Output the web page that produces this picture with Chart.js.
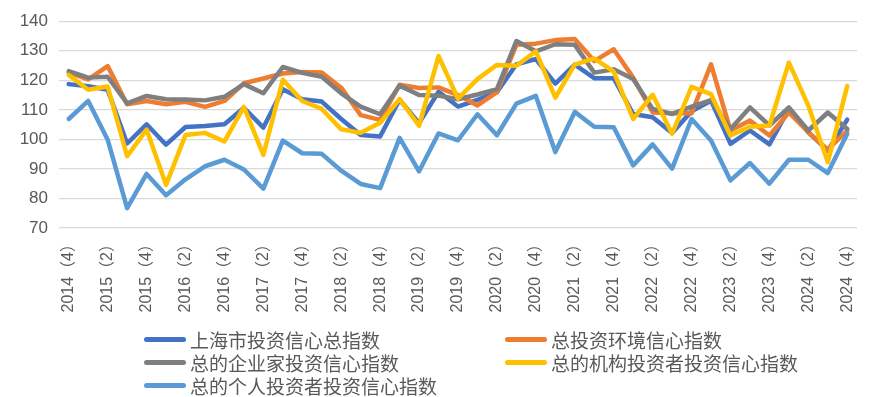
<!DOCTYPE html>
<html>
<head>
<meta charset="utf-8">
<script src="https://cdn.jsdelivr.net/npm/chart.js@4.4.0/dist/chart.umd.min.js"></script>
<style>
  html, body { margin: 0; padding: 0; background: #fff; }
  #wrap { position: relative; width: 879px; height: 397px; }
  #c { position: absolute; left: 0; top: 0; }
  #legend { position: absolute; left: 0; top: 0; width: 879px; height: 397px; pointer-events: none;
            font-family: "Noto Sans CJK SC", sans-serif; font-size: 19px; color: #595959; }
  .item { position: absolute; height: 23px; line-height: 23px; white-space: nowrap; }
  .mark { position: absolute; top: 9px; width: 42px; height: 5px; border-radius: 3px; }
  .txt { position: absolute; left: 46px; top: 0; }
</style>
</head>
<body>
<div id="wrap">
  <canvas id="c" width="879" height="397"></canvas>
  <div id="legend"></div>
</div>
<script>
// ---- data ----
const categories = [
  "2014（4）","2015（1）","2015（2）","2015（3）","2015（4）",
  "2016（1）","2016（2）","2016（3）","2016（4）",
  "2017（1）","2017（2）","2017（3）","2017（4）",
  "2018（1）","2018（2）","2018（3）","2018（4）",
  "2019（1）","2019（2）","2019（3）","2019（4）",
  "2020（1）","2020（2）","2020（3）","2020（4）",
  "2021（1）","2021（2）","2021（3）","2021（4）",
  "2022（1）","2022（2）","2022（3）","2022（4）",
  "2023（1）","2023（2）","2023（3）","2023（4）",
  "2024（1）","2024（2）","2024（3）","2024（4）"
];
const seriesNames = [
  "上海市投资信心总指数",
  "总投资环境信心指数",
  "总的企业家投资信心指数",
  "总的机构投资者投资信心指数",
  "总的个人投资者投资信心指数"
];
const totalIndex = [118.7,118,116.8,98.6,105.1,98.2,104.2,104.5,105.1,110.7,104,117,113.6,112.8,106.9,101.5,101,113.4,105.5,116.1,111.1,113.4,116,125.4,127.2,118.9,125.3,120.7,120.7,108.6,107.5,102.2,109.5,113.1,98.5,103,98.3,110.3,102.4,96.2,106.7];
const environmentIndex = [122.6,120.3,124.8,111.9,113,111.9,112.7,111,113,119,120.6,122.3,122.8,122.6,117.5,108.2,106.6,118.5,117.4,117.6,115,111.5,116,132,132.4,133.6,134,126.5,130.5,120.9,109.1,108.8,108.8,125.4,103,106.4,101.3,109.1,102.4,96.5,103];
const entrepreneurIndex = [123.1,120.9,121.2,112.2,114.7,113.6,113.5,113.2,114.4,118.7,115.6,124.5,122.5,121.2,115.6,111.1,108.5,118.2,115,114.8,113.6,115.2,117,133.3,129.8,132.2,132,122.6,123.7,120.4,110.3,108.6,111.1,113.3,103.5,110.8,104.7,110.8,103,109.1,103.5];
const institutionIndex = [121.8,116.8,117.9,94.3,103.3,84.6,101.5,102.2,99.3,111,94.7,120.2,113,110.3,103.4,102.2,105.6,113.6,104.6,128.2,113.8,120.4,125.2,124.9,129.8,114.1,125.3,127.4,122.9,106.9,115.1,101.9,117.8,115.3,101.3,104.3,104.7,126,111.4,92.3,118.1];
const individualIndex = [106.9,113,99.9,76.7,88.3,81.1,86.5,90.9,93.1,89.8,83.3,99.6,95.3,95.1,89.4,84.9,83.5,100.5,89.2,102,99.7,108.5,101.4,112.1,114.7,95.7,109.3,104.3,104.1,91.2,98.3,90.1,106.9,99.6,86.1,92,85,93.1,93.1,88.6,101.9];
const yTicks = [70, 80, 90, 100, 110, 120, 130, 140];

const colors = ["#4472C4", "#ED7D31", "#7F7F7F", "#FFC000", "#5B9BD5"];
const values = [totalIndex, environmentIndex, entrepreneurIndex, institutionIndex, individualIndex];

const datasets = values.map((v, i) => ({
  label: seriesNames[i],
  data: v,
  borderColor: colors[i],
  backgroundColor: colors[i],
  borderWidth: 4.5,
  pointRadius: 0,
  tension: 0,
  fill: false,
  borderJoinStyle: 'round',
  borderCapStyle: 'round',
  order: values.length - i
}));

const chart = new Chart(document.getElementById('c'), {
  type: 'line',
  data: { labels: categories, datasets: datasets },
  options: {
    responsive: false,
    animation: false,
    devicePixelRatio: 1,
    layout: { padding: { left: 0, right: 22, top: 20, bottom: 0 } },
    plugins: { legend: { display: false }, tooltip: { enabled: false } },
    scales: {
      x: {
        offset: true,
        grid: { display: false, drawTicks: false },
        border: { display: false },
        ticks: {
          autoSkip: false,
          maxRotation: 90,
          minRotation: 90,
          padding: 8,
          color: '#595959',
          font: { family: '"Liberation Sans", "Noto Sans CJK SC", sans-serif', size: 16 },
          callback: function (v, i) { return i % 2 === 0 ? this.getLabelForValue(v) : ''; }
        },
        afterFit: function (s) { s.height = 397 - 228; }
      },
      y: {
        min: 70,
        max: 140,
        afterBuildTicks: function (s) { s.ticks = yTicks.map(v => ({ value: v })); },
        grid: { color: '#D9D9D9', lineWidth: 1.3, drawTicks: false },
        border: { display: false },
        ticks: {
          padding: 11,
          color: '#595959',
          font: { family: '"Liberation Sans", sans-serif', size: 17 }
        },
        afterFit: function (s) { s.width = 59; }
      }
    }
  }
});

// HTML legend built from chart datasets
const legendPos = [[144, 328], [505, 328], [144, 351], [505, 351], [144, 374]];
const lg = document.getElementById('legend');
chart.data.datasets.forEach((ds, i) => {
  const it = document.createElement('div');
  it.className = 'item';
  it.style.left = legendPos[i][0] + 'px';
  it.style.top = legendPos[i][1] + 'px';
  const m = document.createElement('div');
  m.className = 'mark';
  m.style.background = ds.borderColor;
  const t = document.createElement('span');
  t.className = 'txt';
  t.textContent = ds.label;
  it.appendChild(m); it.appendChild(t);
  lg.appendChild(it);
});
</script>
</body>
</html>
